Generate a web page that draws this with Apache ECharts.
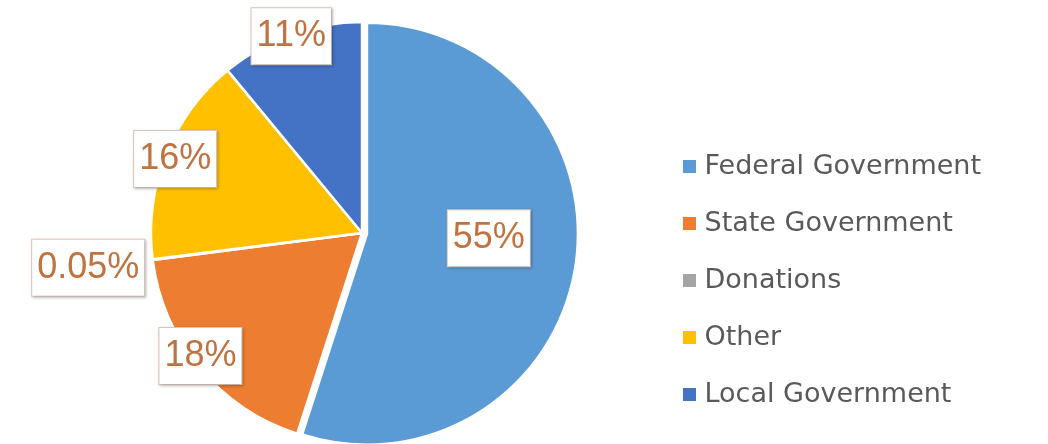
<!DOCTYPE html>
<html>
<head>
<meta charset="utf-8">
<title>Funding sources</title>
<script src="https://cdn.jsdelivr.net/npm/echarts@6/dist/echarts.min.js"></script>
<style>
  html, body { margin: 0; padding: 0; background: #fff; }
  #chartPie { width: 1048px; height: 444px; }
</style>
</head>
<body>
<div id="chartPie"></div>
<script>
  // data (percent of total)
  var categories = ['Federal Government', 'State Government', 'Donations', 'Other', 'Local Government'];
  var shares = [55, 18, 0.05, 16, 11];
  var shareLabels = ['55%', '18%', '0.05%', '16%', '11%'];
  var colors = ['#5b9bd5', '#ed7d31', '#a5a5a5', '#ffc000', '#4472c4'];

  var R = 211;          // pie radius, px
  var total = shares.reduce(function (a, b) { return a + b; }, 0);

  // mid angle of each slice, measured clockwise from 12 o'clock
  var midAngles = [];
  var acc = 0;
  for (var i = 0; i < shares.length; i++) {
    var a = shares[i] / total * Math.PI * 2;
    midAngles.push(acc + a / 2);
    acc += a;
  }

  // label box placement per slice: [distance from centre px, angle nudge deg]
  // (mimics excel "best fit")
  var labelPlace = [[119, -7], [200, 2.5], [273, 0], [198, 0], [206, 0]];

  var chartPie = echarts.init(document.getElementById('chartPie'));
  chartPie.setOption({
    animation: false,
    color: colors,
    legend: {
      orient: 'vertical',
      left: 678,
      top: 148,
      itemWidth: 20,
      itemHeight: 13,
      itemGap: 30,
      icon: 'path://M0,0h12v12h-12z',
      itemStyle: { borderWidth: 0 },
      selectedMode: false,
      textStyle: {
        fontFamily: 'DejaVu Sans',
        fontSize: 27,
        lineHeight: 27,
        color: '#595959'
      },
      data: categories
    },
    series: [{
      type: 'pie',
      center: [362, 233],
      radius: R,
      startAngle: 90,
      clockwise: true,
      selectedMode: 'single',
      selectedOffset: 5,
      avoidLabelOverlap: false,
      emphasis: { disabled: true },
      itemStyle: { borderColor: '#fff', borderWidth: 2.5 },
      label: {
        show: true,
        position: 'inside',
        formatter: function (p) { return shareLabels[p.dataIndex]; },
        fontFamily: 'Liberation Sans',
        fontSize: 36,
        lineHeight: 44,
        color: '#c0723f',
        backgroundColor: '#fff',
        borderColor: '#dccbc0',
        borderWidth: 1,
        padding: [6, 5, 6, 5],
        shadowColor: 'rgba(0,0,0,0.25)',
        shadowBlur: 3,
        shadowOffsetX: 1,
        shadowOffsetY: 1
      },
      labelLine: { show: false },
      labelLayout: function (p) {
        var idx = p.dataIndex;
        var m = midAngles[idx];
        var t = m + labelPlace[idx][1] * Math.PI / 180;
        var r = labelPlace[idx][0];
        var h = R / 2;   // where echarts puts an 'inside' label
        return {
          dx: r * Math.sin(t) - h * Math.sin(m),
          dy: -r * Math.cos(t) + h * Math.cos(m)
        };
      },
      data: categories.map(function (name, k) {
        return { name: name, value: shares[k], selected: k === 0 };
      })
    }]
  });
</script>
</body>
</html>
